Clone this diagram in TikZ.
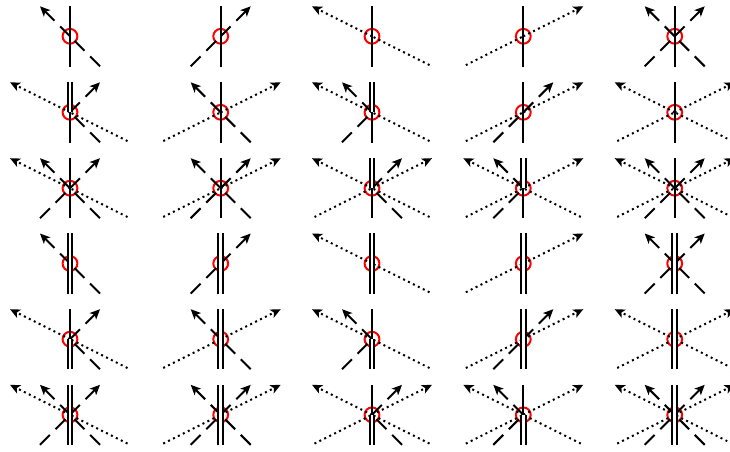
\documentclass[tikz,border=0pt]{standalone}
\usepackage{xcolor}
\usepackage{tikz}
\usetikzlibrary{arrows.meta}
\definecolor{ringred}{HTML}{ff0000}
\tikzset{
  singleline/.style={line width=2.1pt},
  doubleline/.style={line width=2pt, double, double distance=2.6pt},
  dashleg/.style={line width=2pt, dash pattern=on 14pt off 8pt},
  dotleg/.style={line width=2pt, dash pattern=on 2pt off 3.5pt},
  legtip/.style={-{Stealth[length=10pt, width=9pt, inset=2.5pt]}},
  ring/.style={draw=ringred, line width=2pt, circle, inner sep=0pt, minimum size=14.8pt}
}

\begin{document}
\begin{tikzpicture}[x=1pt, y=-1pt]
\clip (0,0) rectangle (730,451);
% name / x / y / upper line / lower line / legs
\foreach \name/\xc/\yc/\up/\dn/\legs in {
  a1/70/36.3/singleline/singleline/{dashleg/se/nw},
  a2/220.7/36.3/singleline/singleline/{dashleg/sw/ne},
  a3/372/36.3/singleline/singleline/{dotleg/se/nw},
  a4/523.3/36.3/singleline/singleline/{dotleg/sw/ne},
  a5/674.7/36.3/singleline/singleline/{dashleg/se/nw, dashleg/sw/ne},
  b1/70/112.3/doubleline/singleline/{dotleg/se/nw, dashleg/se/ne},
  b2/220.7/112.3/singleline/singleline/{dotleg/sw/ne, dashleg/se/nw},
  b3/372/112.3/doubleline/singleline/{dotleg/se/nw, dashleg/sw/nw},
  b4/523.3/112.3/singleline/singleline/{dotleg/sw/ne, dashleg/sw/ne},
  b5/674.7/112.3/singleline/singleline/{dotleg/se/nw, dotleg/sw/ne},
  c1/70/188.2/singleline/singleline/{dotleg/se/nw, dashleg/se/nw, dashleg/sw/ne},
  c2/220.7/188.2/singleline/singleline/{dotleg/sw/ne, dashleg/se/nw, dashleg/sw/ne},
  c3/372/188.2/doubleline/singleline/{dotleg/se/nw, dotleg/sw/ne, dashleg/se/ne},
  c4/523.3/188.2/doubleline/singleline/{dotleg/se/nw, dotleg/sw/ne, dashleg/sw/nw},
  c5/674.7/188.2/singleline/singleline/{dotleg/se/nw, dotleg/sw/ne, dashleg/se/nw, dashleg/sw/ne},
  d1/70/263.5/doubleline/doubleline/{dashleg/se/nw},
  d2/220.7/263.5/doubleline/doubleline/{dashleg/sw/ne},
  d3/372/263.5/doubleline/doubleline/{dotleg/se/nw},
  d4/523.3/263.5/doubleline/doubleline/{dotleg/sw/ne},
  d5/674.7/263.5/doubleline/doubleline/{dashleg/se/nw, dashleg/sw/ne},
  e1/70/339.2/singleline/doubleline/{dotleg/se/nw, dashleg/se/ne},
  e2/220.7/339.2/doubleline/doubleline/{dotleg/sw/ne, dashleg/se/nw},
  e3/372/339.2/singleline/doubleline/{dotleg/se/nw, dashleg/sw/nw},
  e4/523.3/339.2/doubleline/doubleline/{dotleg/sw/ne, dashleg/sw/ne},
  e5/674.7/339.2/doubleline/doubleline/{dotleg/se/nw, dotleg/sw/ne},
  f1/70/414.8/doubleline/doubleline/{dotleg/se/nw, dashleg/se/nw, dashleg/sw/ne},
  f2/220.7/414.8/doubleline/doubleline/{dotleg/sw/ne, dashleg/se/nw, dashleg/sw/ne},
  f3/372/414.8/singleline/doubleline/{dotleg/se/nw, dotleg/sw/ne, dashleg/se/ne},
  f4/523.3/414.8/singleline/doubleline/{dotleg/se/nw, dotleg/sw/ne, dashleg/sw/nw},
  f5/674.7/414.8/doubleline/doubleline/{dotleg/se/nw, dotleg/sw/ne, dashleg/se/nw, dashleg/sw/ne}%
} {
  \node[ring] (\name) at (\xc,\yc) {};
  \coordinate (\name-n) at (\xc,\yc-30.2);
  \coordinate (\name-s) at (\xc,\yc+30.2);
  \coordinate (\name-dashleg-nw) at (\xc-30,\yc-30);
  \coordinate (\name-dashleg-ne) at (\xc+30,\yc-30);
  \coordinate (\name-dashleg-sw) at (\xc-30,\yc+30);
  \coordinate (\name-dashleg-se) at (\xc+30,\yc+30);
  \coordinate (\name-dotleg-nw) at (\xc-60,\yc-30);
  \coordinate (\name-dotleg-ne) at (\xc+60,\yc-30);
  \coordinate (\name-dotleg-sw) at (\xc-57.5,\yc+28.8);
  \coordinate (\name-dotleg-se) at (\xc+57.5,\yc+28.8);
  \foreach \kind/\from/\to in \legs {
    \draw[\kind] (\name-\kind-\from) -- (\name.center);
    \draw[\kind, legtip] (\name.center) -- (\name-\kind-\to);
  }
  \draw[\up] (\name.center) -- (\name-n);
  \draw[\dn] (\name.center) -- (\name-s);
}
\end{tikzpicture}
\end{document}
